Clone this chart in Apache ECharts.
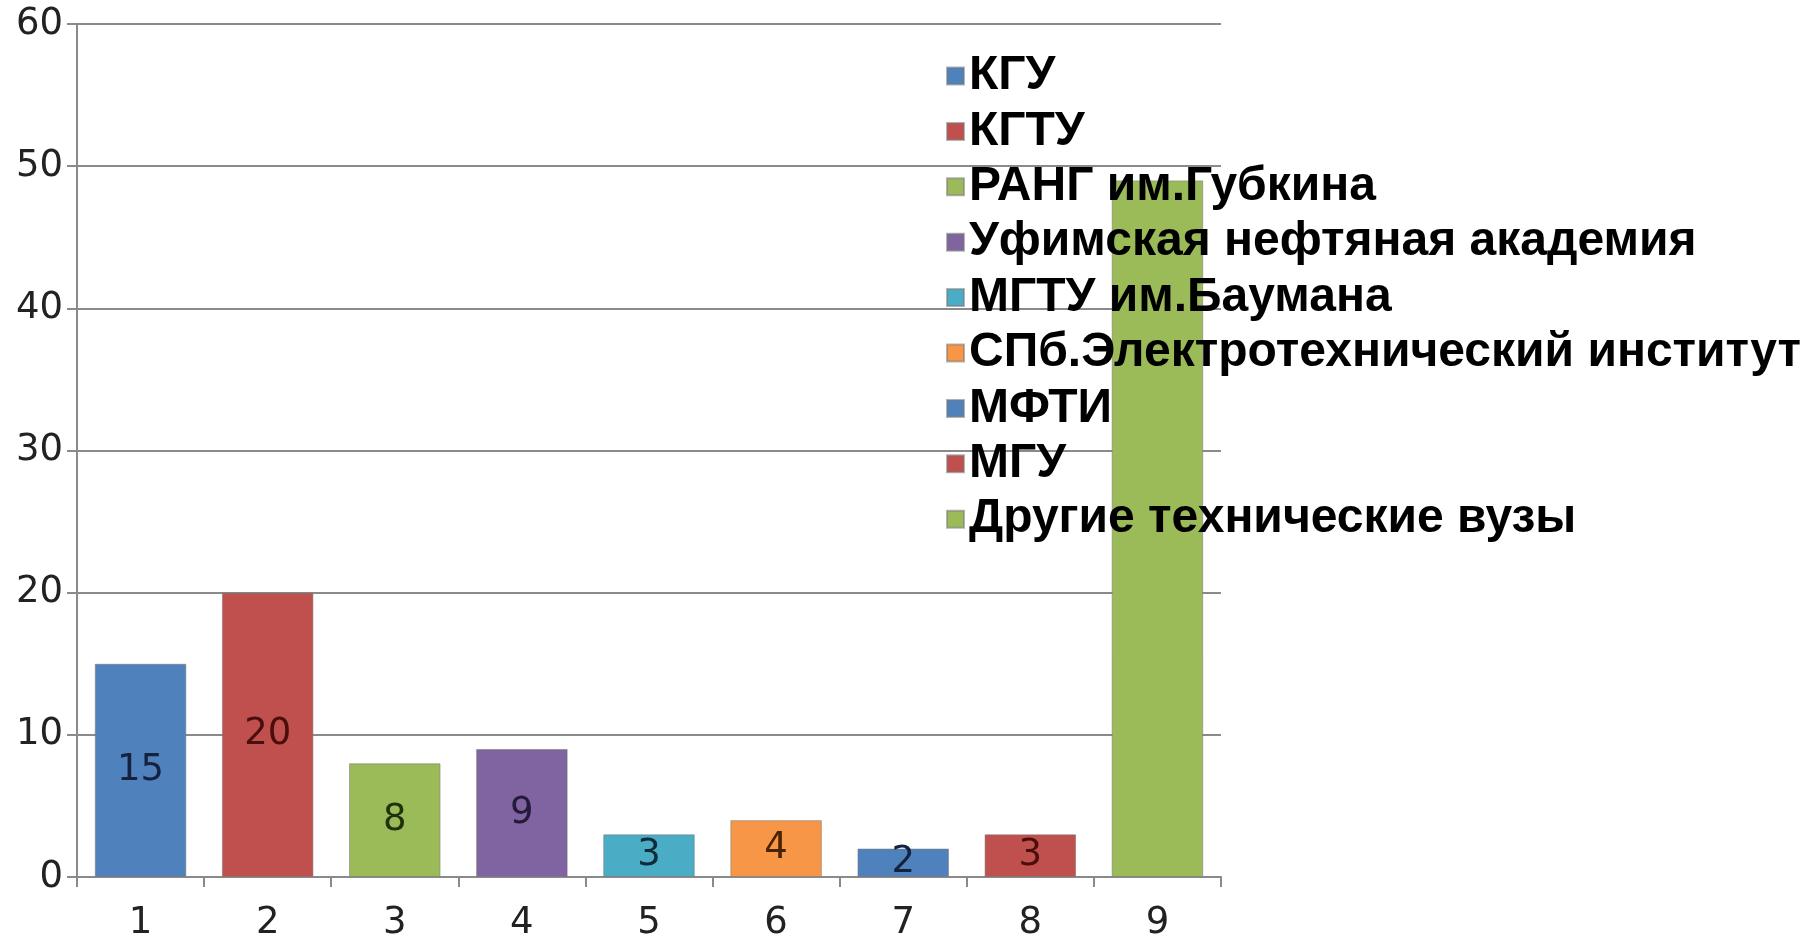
<!DOCTYPE html>
<html>
<head>
<meta charset="utf-8">
<title>Вузы</title>
<script src="https://cdn.jsdelivr.net/npm/echarts@6/dist/echarts.min.js"></script>
<style>
  html, body { margin: 0; padding: 0; background: #fff; }
  #chart { width: 1810px; height: 939px; }
</style>
</head>
<body>
<div id="chart"></div>
<script>
// данные с картинки
const categories = ['1', '2', '3', '4', '5', '6', '7', '8', '9']
const seriesNames = [
  'КГУ',
  'КГТУ',
  'РАНГ им.Губкина',
  'Уфимская нефтяная академия',
  'МГТУ им.Баумана',
  'СПб.Электротехнический институт',
  'МФТИ',
  'МГУ',
  'Другие технические вузы'
]
const values = [15, 20, 8, 9, 3, 4, 2, 3, 49]
const yTicks = [0, 10, 20, 30, 40, 50, 60]

// цвета как в Excel 2007
const colors = ['#4f81bd', '#c0504d', '#9bbb59', '#8064a2', '#4bacc6', '#f79646', '#4f81bd', '#c0504d', '#9bbb59']
const labelColors = ['#142240', '#4a0f0d', '#22300c', '#251a3a', '#0e2c3a', '#4a2204', '#142240', '#4a0f0d', '#22300c']

const chart = echarts.init(document.getElementById('chart'))

const series = seriesNames.map((name, i) => {
  // каждая серия - только свой столбец
  const data = categories.map((c, j) => (j === i ? values[i] : '-'))
  return {
    name: name,
    type: 'bar',
    stack: 'all',
    barWidth: '72%',
    data: data,
    itemStyle: {
      color: colors[i],
      borderColor: 'rgba(120,120,120,0.55)',
      borderWidth: 1
    },
    label: {
      show: i !== 8,
      position: 'inside',
      color: labelColors[i],
      fontFamily: 'DejaVu Sans',
      fontSize: 37
    }
  }
})

const option = {
  backgroundColor: '#fff',
  animation: false,
  color: colors,
  grid: {
    left: 77,
    right: 589,
    top: 24,
    bottom: 62,
    containLabel: false,
    outerBoundsMode: 'none'
  },
  legend: {
    orient: 'vertical',
    left: 941,
    top: 47,
    itemWidth: 17,
    itemHeight: 17,
    itemGap: 7.4,
    icon: 'rect',
    data: seriesNames,
    textStyle: {
      color: '#000',
      fontFamily: 'Liberation Sans',
      fontWeight: 'bold',
      fontSize: 48
    }
  },
  xAxis: {
    type: 'category',
    data: categories,
    axisLine: { lineStyle: { color: '#8a8a8a', width: 2 } },
    axisTick: { show: true, length: 10, lineStyle: { color: '#8a8a8a', width: 2 } },
    axisLabel: {
      color: '#222',
      fontFamily: 'DejaVu Sans',
      fontSize: 37,
      margin: 28
    }
  },
  yAxis: {
    type: 'value',
    min: yTicks[0],
    max: yTicks[yTicks.length - 1],
    interval: 10,
    axisLine: { show: true, lineStyle: { color: '#8a8a8a', width: 2 } },
    axisTick: { show: true, length: 10, lineStyle: { color: '#8a8a8a', width: 2 } },
    splitLine: { show: true, lineStyle: { color: '#8a8a8a', width: 2 } },
    axisLabel: {
      color: '#222',
      fontFamily: 'DejaVu Sans',
      fontSize: 37,
      margin: 14
    }
  },
  series: series
}

chart.setOption(option)
</script>
</body>
</html>
